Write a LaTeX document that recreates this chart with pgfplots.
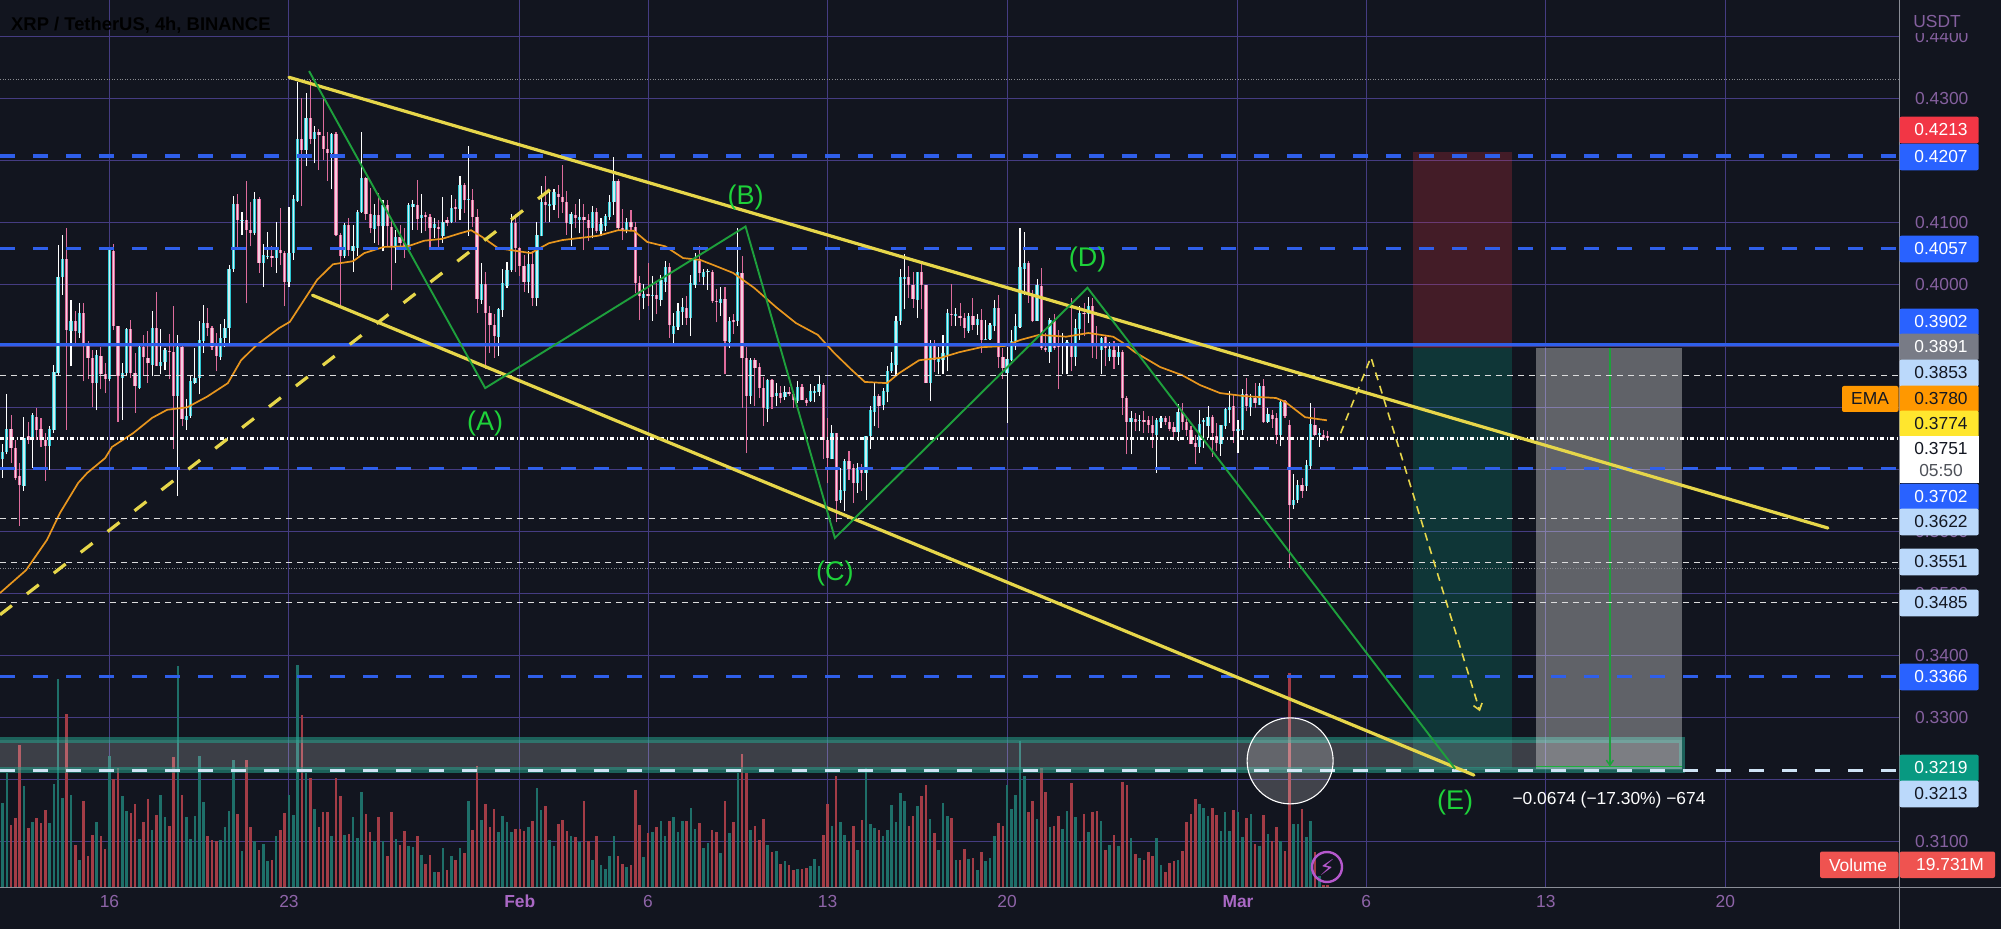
\documentclass[border=0pt]{standalone}
\usepackage{fontspec}
\setmainfont{Liberation Sans}
\newfontfamily\djv{DejaVu Sans}
\usepackage{pgfplots}
\usepackage{pgfplotstable}
\pgfplotsset{compat=1.18}
\usetikzlibrary{arrows.meta}
\definecolor{bgc}{HTML}{12151F}
\definecolor{gridc}{HTML}{453C82}
\definecolor{tickc}{HTML}{85609F}
\definecolor{datec}{HTML}{8E64A8}
\definecolor{monc}{HTML}{A968C4}
\definecolor{axc}{HTML}{8A8D96}
\definecolor{upe}{HTML}{2CC6D2}
\definecolor{upi}{HTML}{CDEFF2}
\definecolor{dne}{HTML}{DE6C9C}
\definecolor{dni}{HTML}{F6CFE0}
\definecolor{wdn}{HTML}{DE6C9C}
\definecolor{volu}{HTML}{1E6F69}
\definecolor{vold}{HTML}{A33C46}
\definecolor{ylw}{HTML}{E6D64A}
\definecolor{grn}{HTML}{1EA03C}
\definecolor{lblue}{HTML}{2F5FEA}
\definecolor{lwhite}{HTML}{CFE3F5}
\definecolor{ema}{HTML}{E8961E}
\definecolor{lab}{HTML}{1ED23A}
\definecolor{bxblue}{HTML}{2962FF}
\definecolor{bxpale}{HTML}{BBD9FB}
\definecolor{bxred}{HTML}{F23645}
\definecolor{bxgray}{HTML}{787B86}
\definecolor{bxorg}{HTML}{FF9800}
\definecolor{bxyel}{HTML}{FFE62E}
\definecolor{bxgrn}{HTML}{089981}
\definecolor{bxvol}{HTML}{EF5350}
\definecolor{txdark}{HTML}{131722}
\definecolor{zonec}{HTML}{26A08C}
\pgfplotstableread{
n o h l c v
-25 0.3718 0.3741 0.3687 0.3729 252
-24 0.3729 0.3822 0.3725 0.3766 342
-23 0.3766 0.3789 0.3711 0.3735 187
-22 0.3735 0.3749 0.3683 0.3687 207
-21 0.3690 0.3711 0.3609 0.3675 427
-20 0.3674 0.3785 0.3666 0.3752 304
-19 0.3755 0.3778 0.3741 0.3749 177
-18 0.3749 0.3792 0.3703 0.3789 195
-17 0.3786 0.3800 0.3749 0.3765 207
-16 0.3766 0.3784 0.3737 0.3749 192
-15 0.3748 0.3760 0.3682 0.3739 232
-14 0.3739 0.3771 0.3700 0.3766 192
-13 0.3764 0.3870 0.3760 0.3858 310
-12 0.3856 0.4063 0.3851 0.4012 624
-11 0.4011 0.4080 0.3983 0.4040 267
-10 0.4040 0.4090 0.3765 0.3926 520
-9 0.3925 0.3975 0.3867 0.3940 277
-8 0.3940 0.3956 0.3905 0.3924 127
-7 0.3921 0.3969 0.3913 0.3953 82
-6 0.3953 0.3969 0.3843 0.3905 259
-5 0.3905 0.3908 0.3846 0.3881 94
-4 0.3881 0.3894 0.3802 0.3840 157
-3 0.3840 0.3893 0.3796 0.3886 195
-2 0.3884 0.3899 0.3830 0.3855 154
-1 0.3855 0.3873 0.3824 0.3846 114
0 0.3846 0.4058 0.3843 0.4055 392
1 0.4053 0.4065 0.3926 0.3932 324
2 0.3932 0.3933 0.3778 0.3851 357
3 0.3848 0.3872 0.3781 0.3857 272
4 0.3856 0.3929 0.3851 0.3927 227
5 0.3927 0.3942 0.3848 0.3856 222
6 0.3856 0.3889 0.3792 0.3835 250
7 0.3832 0.3902 0.3830 0.3899 144
8 0.3899 0.3918 0.3851 0.3882 194
9 0.3881 0.3925 0.3841 0.3872 265
10 0.3870 0.3956 0.3851 0.3929 170
11 0.3929 0.3988 0.3867 0.3868 217
12 0.3868 0.3927 0.3854 0.3874 277
13 0.3874 0.3897 0.3862 0.3893 210
14 0.3892 0.3920 0.3846 0.3890 184
15 0.3890 0.3965 0.3733 0.3819 390
16 0.3819 0.3917 0.3658 0.3899 662
17 0.3899 0.3902 0.3770 0.3782 277
18 0.3781 0.3815 0.3765 0.3787 210
19 0.3787 0.3851 0.3784 0.3843 144
20 0.3841 0.3897 0.3839 0.3848 214
21 0.3848 0.3940 0.3822 0.3910 392
22 0.3908 0.3967 0.3889 0.3937 254
23 0.3937 0.3961 0.3916 0.3929 152
24 0.3929 0.3933 0.3894 0.3899 142
25 0.3905 0.3921 0.3859 0.3884 139
26 0.3882 0.3936 0.3878 0.3913 142
27 0.3913 0.3944 0.3899 0.3929 179
28 0.3929 0.4031 0.3902 0.4024 229
29 0.4024 0.4142 0.4020 0.4129 380
30 0.4129 0.4146 0.4058 0.4104 220
31 0.4103 0.4117 0.4080 0.4104 109
32 0.4104 0.4166 0.3969 0.4088 382
33 0.4088 0.4133 0.4061 0.4083 180
34 0.4082 0.4148 0.4080 0.4137 137
35 0.4137 0.4141 0.4018 0.4034 110
36 0.4034 0.4065 0.3996 0.4047 129
37 0.4044 0.4084 0.4040 0.4046 77
38 0.4045 0.4061 0.4028 0.4042 82
39 0.4042 0.4100 0.4018 0.4055 154
40 0.4055 0.4123 0.4031 0.4050 172
41 0.4050 0.4053 0.3964 0.4004 222
42 0.4004 0.4124 0.3996 0.4051 277
43 0.4051 0.4144 0.4039 0.4137 217
44 0.4134 0.4327 0.4133 0.4234 667
45 0.4234 0.4300 0.4126 0.4217 517
46 0.4217 0.4308 0.4190 0.4268 342
47 0.4268 0.4330 0.4226 0.4234 327
48 0.4234 0.4255 0.4195 0.4246 235
49 0.4246 0.4250 0.4184 0.4241 180
50 0.4239 0.4300 0.4200 0.4218 226
51 0.4218 0.4245 0.4167 0.4212 226
52 0.4211 0.4244 0.4153 0.4242 154
53 0.4242 0.4246 0.4077 0.4080 327
54 0.4080 0.4082 0.3967 0.4045 272
55 0.4045 0.4098 0.4042 0.4096 156
56 0.4096 0.4106 0.4045 0.4055 160
57 0.4054 0.4096 0.4020 0.4061 210
58 0.4058 0.4120 0.4045 0.4117 147
59 0.4116 0.4246 0.4115 0.4171 285
60 0.4171 0.4173 0.4104 0.4113 220
61 0.4113 0.4155 0.4082 0.4090 164
62 0.4089 0.4130 0.4066 0.4112 137
63 0.4111 0.4147 0.4063 0.4093 210
64 0.4093 0.4136 0.4053 0.4128 137
65 0.4128 0.4136 0.4061 0.4093 94
66 0.4092 0.4104 0.3990 0.4061 224
67 0.4058 0.4088 0.4034 0.4076 145
68 0.4076 0.4096 0.4061 0.4067 127
69 0.4067 0.4090 0.4042 0.4062 169
70 0.4063 0.4131 0.4061 0.4128 124
71 0.4125 0.4136 0.4088 0.4129 120
72 0.4128 0.4168 0.4088 0.4105 152
73 0.4106 0.4146 0.4082 0.4112 97
74 0.4112 0.4117 0.4085 0.4109 70
75 0.4109 0.4113 0.4058 0.4090 97
76 0.4090 0.4106 0.4074 0.4097 46
77 0.4092 0.4104 0.4058 0.4089 46
78 0.4078 0.4141 0.4066 0.4101 117
79 0.4104 0.4109 0.4093 0.4099 52
80 0.4101 0.4144 0.4098 0.4123 94
81 0.4124 0.4137 0.4100 0.4122 82
82 0.4121 0.4175 0.4104 0.4160 117
83 0.4160 0.4163 0.4115 0.4135 102
84 0.4135 0.4223 0.4078 0.4137 257
85 0.4136 0.4153 0.4092 0.4108 172
86 0.4108 0.4121 0.3953 0.3976 362
87 0.3975 0.4034 0.3968 0.4000 202
88 0.4000 0.4019 0.3863 0.3953 250
89 0.3953 0.3964 0.3889 0.3934 179
90 0.3934 0.3951 0.3881 0.3916 235
91 0.3914 0.3961 0.3884 0.3960 165
92 0.3958 0.4024 0.3947 0.4001 212
93 0.3997 0.4035 0.3994 0.4023 194
94 0.4022 0.4113 0.4020 0.4099 164
95 0.4098 0.4113 0.4020 0.4058 175
96 0.4058 0.4060 0.4013 0.4030 175
97 0.4030 0.4047 0.3988 0.4003 167
98 0.4003 0.4053 0.3985 0.4032 179
99 0.4032 0.4053 0.3965 0.3977 197
100 0.3977 0.4101 0.3964 0.4080 297
101 0.4078 0.4159 0.4077 0.4132 232
102 0.4132 0.4175 0.4101 0.4128 242
103 0.4126 0.4152 0.4101 0.4129 142
104 0.4128 0.4153 0.4120 0.4148 122
105 0.4145 0.4160 0.4106 0.4141 190
106 0.4141 0.4192 0.4115 0.4133 202
107 0.4133 0.4151 0.4080 0.4098 169
108 0.4097 0.4117 0.4061 0.4113 154
109 0.4112 0.4130 0.4090 0.4106 149
110 0.4104 0.4137 0.4082 0.4108 134
111 0.4108 0.4130 0.4055 0.4104 259
112 0.4104 0.4113 0.4069 0.4090 137
113 0.4090 0.4126 0.4074 0.4117 82
114 0.4117 0.4123 0.4082 0.4085 152
115 0.4085 0.4106 0.4077 0.4097 67
116 0.4094 0.4113 0.4085 0.4110 54
117 0.4108 0.4144 0.4104 0.4133 94
118 0.4132 0.4206 0.4112 0.4167 152
119 0.4167 0.4169 0.4088 0.4090 92
120 0.4090 0.4121 0.4071 0.4086 70
121 0.4086 0.4106 0.4082 0.4101 60
122 0.4100 0.4119 0.4085 0.4092 67
123 0.4092 0.4101 0.3985 0.4002 290
124 0.4002 0.4013 0.3942 0.3980 187
125 0.3978 0.4000 0.3959 0.3984 90
126 0.3984 0.4034 0.3965 0.3981 162
127 0.3982 0.4013 0.3941 0.3983 164
128 0.3982 0.4002 0.3951 0.3976 179
129 0.3975 0.4015 0.3964 0.4006 199
130 0.4004 0.4037 0.3987 0.4028 152
131 0.4028 0.4034 0.3913 0.3934 197
132 0.3920 0.3953 0.3905 0.3933 209
133 0.3931 0.3970 0.3926 0.3956 164
134 0.3955 0.3977 0.3934 0.3963 197
135 0.3962 0.3980 0.3934 0.3945 197
136 0.3945 0.4015 0.3916 0.4002 237
137 0.3999 0.4050 0.3994 0.4039 175
138 0.4037 0.4062 0.4004 0.4018 192
139 0.4012 0.4024 0.3999 0.4020 117
140 0.4019 0.4024 0.3991 0.4021 132
141 0.4020 0.4023 0.3970 0.3972 172
142 0.3973 0.3992 0.3938 0.3972 164
143 0.3970 0.3995 0.3949 0.3976 102
144 0.3976 0.3995 0.3854 0.3908 259
145 0.3906 0.3947 0.3897 0.3941 162
146 0.3942 0.3951 0.3920 0.3938 194
147 0.3940 0.4090 0.3932 0.4019 342
148 0.4018 0.4046 0.3800 0.3880 399
149 0.3880 0.3899 0.3727 0.3820 342
150 0.3820 0.3881 0.3807 0.3878 172
151 0.3878 0.3881 0.3803 0.3865 182
152 0.3866 0.3873 0.3816 0.3832 142
153 0.3832 0.3850 0.3771 0.3800 205
154 0.3798 0.3847 0.3778 0.3845 127
155 0.3845 0.3847 0.3798 0.3818 104
156 0.3819 0.3841 0.3803 0.3824 107
157 0.3824 0.3835 0.3808 0.3816 70
158 0.3817 0.3835 0.3813 0.3825 79
159 0.3825 0.3834 0.3819 0.3823 67
160 0.3823 0.3827 0.3800 0.3812 50
161 0.3811 0.3843 0.3808 0.3834 54
162 0.3834 0.3838 0.3812 0.3813 54
163 0.3813 0.3816 0.3803 0.3808 57
164 0.3811 0.3838 0.3810 0.3827 62
165 0.3824 0.3835 0.3809 0.3828 85
166 0.3826 0.3851 0.3820 0.3838 62
167 0.3837 0.3840 0.3717 0.3749 157
168 0.3749 0.3784 0.3678 0.3719 250
169 0.3718 0.3773 0.3717 0.3759 184
170 0.3759 0.3759 0.3615 0.3650 334
171 0.3651 0.3703 0.3647 0.3667 195
172 0.3666 0.3717 0.3633 0.3714 157
173 0.3714 0.3730 0.3684 0.3702 137
174 0.3703 0.3709 0.3647 0.3678 182
175 0.3678 0.3711 0.3663 0.3703 112
176 0.3703 0.3710 0.3666 0.3695 202
177 0.3695 0.3755 0.3651 0.3755 357
178 0.3755 0.3803 0.3734 0.3796 190
179 0.3794 0.3840 0.3770 0.3820 177
180 0.3820 0.3822 0.3768 0.3803 172
181 0.3804 0.3832 0.3796 0.3827 154
182 0.3825 0.3868 0.3809 0.3859 172
183 0.3859 0.3891 0.3856 0.3872 245
184 0.3870 0.3948 0.3851 0.3941 195
185 0.3941 0.4024 0.3934 0.4011 282
186 0.4008 0.4049 0.3959 0.4012 259
187 0.4011 0.4030 0.3977 0.3999 182
188 0.3999 0.4020 0.3962 0.3976 212
189 0.3975 0.4020 0.3945 0.4020 242
190 0.4019 0.4034 0.3960 0.3999 274
191 0.3998 0.3999 0.3840 0.3841 305
192 0.3841 0.3909 0.3811 0.3900 204
193 0.3900 0.3909 0.3858 0.3878 162
194 0.3874 0.3899 0.3854 0.3879 112
195 0.3877 0.3917 0.3855 0.3888 252
196 0.3886 0.3959 0.3859 0.3953 214
197 0.3952 0.4000 0.3932 0.3950 207
198 0.3949 0.3961 0.3932 0.3951 82
199 0.3949 0.3969 0.3932 0.3945 80
200 0.3945 0.3953 0.3913 0.3929 115
201 0.3925 0.3954 0.3921 0.3948 84
202 0.3948 0.3977 0.3926 0.3934 87
203 0.3934 0.3951 0.3918 0.3944 52
204 0.3942 0.3959 0.3889 0.3910 104
205 0.3911 0.3942 0.3910 0.3912 77
206 0.3911 0.3937 0.3910 0.3934 87
207 0.3932 0.3975 0.3924 0.3961 152
208 0.3961 0.3983 0.3865 0.3883 192
209 0.3883 0.3897 0.3846 0.3865 184
210 0.3856 0.3899 0.3776 0.3879 305
211 0.3878 0.3926 0.3875 0.3908 235
212 0.3908 0.3951 0.3894 0.3932 277
213 0.3931 0.4090 0.3929 0.4027 439
214 0.4024 0.4084 0.3983 0.4034 332
215 0.4034 0.4038 0.3970 0.3984 224
216 0.3984 0.3991 0.3938 0.3941 257
217 0.3941 0.4008 0.3940 0.3999 205
218 0.3997 0.4026 0.3894 0.3897 357
219 0.3897 0.3921 0.3891 0.3893 285
220 0.3891 0.3945 0.3873 0.3942 179
221 0.3940 0.3951 0.3894 0.3897 184
222 0.3902 0.3926 0.3830 0.3898 212
223 0.3902 0.3921 0.3854 0.3904 174
224 0.3902 0.3909 0.3854 0.3906 229
225 0.3905 0.3977 0.3859 0.3883 312
226 0.3882 0.3944 0.3868 0.3929 210
227 0.3927 0.3965 0.3910 0.3953 137
228 0.3953 0.3969 0.3916 0.3951 220
229 0.3951 0.3979 0.3937 0.3965 165
230 0.3964 0.3977 0.3881 0.3902 224
231 0.3902 0.3933 0.3879 0.3900 229
232 0.3893 0.3915 0.3854 0.3913 199
233 0.3914 0.3917 0.3867 0.3897 112
234 0.3883 0.3906 0.3875 0.3895 127
235 0.3894 0.3908 0.3863 0.3883 155
236 0.3883 0.3902 0.3870 0.3890 122
237 0.3890 0.3894 0.3789 0.3816 315
238 0.3816 0.3819 0.3725 0.3778 307
239 0.3777 0.3795 0.3725 0.3784 147
240 0.3782 0.3792 0.3762 0.3778 100
241 0.3780 0.3788 0.3762 0.3781 87
242 0.3781 0.3795 0.3760 0.3778 80
243 0.3780 0.3787 0.3760 0.3773 104
244 0.3773 0.3787 0.3735 0.3759 92
245 0.3757 0.3784 0.3695 0.3780 147
246 0.3778 0.3787 0.3768 0.3784 67
247 0.3784 0.3787 0.3773 0.3778 45
248 0.3778 0.3787 0.3762 0.3766 72
249 0.3769 0.3778 0.3752 0.3761 77
250 0.3761 0.3807 0.3746 0.3793 82
251 0.3793 0.3808 0.3765 0.3778 107
252 0.3778 0.3787 0.3755 0.3765 194
253 0.3765 0.3770 0.3741 0.3742 220
254 0.3744 0.3757 0.3709 0.3737 265
255 0.3737 0.3796 0.3728 0.3774 250
256 0.3778 0.3784 0.3735 0.3780 237
257 0.3771 0.3803 0.3752 0.3785 214
258 0.3785 0.3789 0.3721 0.3760 237
259 0.3755 0.3776 0.3730 0.3744 217
260 0.3741 0.3773 0.3723 0.3772 169
261 0.3770 0.3800 0.3766 0.3798 225
262 0.3796 0.3828 0.3776 0.3802 169
263 0.3803 0.3823 0.3744 0.3762 230
264 0.3762 0.3781 0.3728 0.3766 226
265 0.3765 0.3830 0.3757 0.3823 149
266 0.3823 0.3848 0.3795 0.3803 207
267 0.3801 0.3822 0.3787 0.3816 220
268 0.3816 0.3841 0.3800 0.3808 130
269 0.3805 0.3841 0.3804 0.3836 122
270 0.3836 0.3847 0.3776 0.3777 217
271 0.3777 0.3800 0.3776 0.3790 160
272 0.3789 0.3797 0.3768 0.3782 137
273 0.3783 0.3792 0.3742 0.3757 180
274 0.3757 0.3812 0.3738 0.3810 137
275 0.3811 0.3813 0.3784 0.3787 107
276 0.3772 0.3781 0.3542 0.3644 642
277 0.3644 0.3694 0.3636 0.3651 190
278 0.3651 0.3684 0.3647 0.3676 190
279 0.3676 0.3687 0.3655 0.3666 235
280 0.3674 0.3716 0.3666 0.3708 149
281 0.3707 0.3808 0.3701 0.3774 199
282 0.3773 0.3800 0.3754 0.3757 104
283 0.3756 0.3768 0.3737 0.3760 32
284 0.3757 0.3765 0.3749 0.3752 7
285 0.3754 0.3762 0.3746 0.3751 7
}\candles
\pgfplotsset{
  base/.style={scale only axis, width=1899.3pt, height=887pt, at={(0pt,0pt)}, anchor=south west,
    xmin=-25.6, xmax=418.7},
  price/.style={base, ymin=0.30263, ymax=0.44588},
  lvl/.style={lblue, line width=3.3pt, dash pattern=on 15pt off 18pt},
  thin lvl/.style={white!85!bgc, line width=1pt, dash pattern=on 6pt off 5pt},
  wick/.style 2 args={draw=none, mark=none, forget plot,
    error bars/y dir=plus, error bars/y explicit, error bars/error mark=none,
    error bars/error bar style={line width=#1, color=#2}},
}
\newcommand{\pbox}[4]{% y-centre (px), fill, text colour, text
  \fill[#2, rounded corners=2pt] (1899.5pt,{887pt-#1pt+13.3pt}) rectangle (1978.7pt,{887pt-#1pt-13.3pt});
  \node[text=#3, font=\fontsize{17.4}{20}\selectfont, inner sep=0pt, anchor=center] at (1941pt,{887pt-#1pt}) {#4};}
\begin{document}
\begin{tikzpicture}[x=1pt,y=1pt]
\path[use as bounding box] (0pt,-42pt) rectangle (2001pt,887pt);
\fill[bgc] (0pt,-42pt) rectangle (2001pt,887pt);
% grid, ticks and labels
\begin{axis}[price,
  axis line style={draw=none},
  major tick length=0pt,
  grid=major, grid style={gridc, line width=1pt},
  xtick={0,42,96,126,168,210,264,294,336,378},
  xticklabels={16,23,{\textcolor{monc}{\textbf{Feb}}},6,13,20,{\textcolor{monc}{\textbf{Mar}}},6,13,20},
  xticklabel style={text=datec, font=\fontsize{17.4}{20}\selectfont, anchor=base, yshift=-20pt},
  ytick={0.31,0.32,0.33,0.34,0.35,0.36,0.37,0.38,0.39,0.40,0.41,0.42,0.43,0.44},
  yticklabels={0.3100,{},0.3300,0.3400,0.3500,0.3600,{},{},{},0.4000,0.4100,{},0.4300,0.4400},
  yticklabel pos=right,
  yticklabel style={text=tickc, font=\fontsize{17.4}{20}\selectfont, anchor=west, inner sep=0pt, xshift=15.7pt},
]
\end{axis}
% volume pane
\begin{axis}[base, hide axis, ymin=0, ymax=2661, unbounded coords=discard]
\addplot[ycomb, volu, line width=2.6pt, mark=none] table[x=n, y expr={\thisrow{c}>=\thisrow{o}?\thisrow{v}:nan}] {\candles};
\addplot[ycomb, vold, line width=2.6pt, mark=none] table[x=n, y expr={\thisrow{c}<\thisrow{o}?\thisrow{v}:nan}] {\candles};
\end{axis}
% price pane
\begin{axis}[price, hide axis, clip=false, unbounded coords=discard]
% position boxes
\addplot[fill=bxred, fill opacity=.22, draw=none] coordinates {(305,0.3897)(328,0.3897)(328,0.4213)(305,0.4213)} -- cycle;
\addplot[fill=bxgrn, fill opacity=.25, draw=none] coordinates {(305,0.3219)(328,0.3219)(328,0.3897)(305,0.3897)} -- cycle;
% zone
\addplot[fill=white, fill opacity=.18, draw=zonec, draw opacity=.55, line width=5.5pt] coordinates {(-32,0.3215)(367.9,0.3215)(367.9,0.3264)(-32,0.3264)} -- cycle;
% measure box
\addplot[fill=white, fill opacity=.33, draw=none] coordinates {(333.7,0.3217)(367.9,0.3217)(367.9,0.3897)(333.7,0.3897)} -- cycle;
\addplot[grn, line width=1.5pt, -{Straight Barb[length=5pt,width=7pt]}] coordinates {(351,0.3897)(351,0.3221)};
\addplot[grn!70!lab, line width=1.5pt] coordinates {(333.7,0.3221)(367.9,0.3221)};
% candles: wicks then bodies
\addplot[wick={1.1pt}{white}] table[x=n, y expr={\thisrow{c}>=\thisrow{o}?\thisrow{l}:nan}, y error plus expr={\thisrow{h}-\thisrow{l}}] {\candles};
\addplot[wick={1.1pt}{wdn}] table[x=n, y expr={\thisrow{c}<\thisrow{o}?\thisrow{l}:nan}, y error plus expr={\thisrow{h}-\thisrow{l}}] {\candles};
\addplot[wick={3.3pt}{upe}] table[x=n, y expr={\thisrow{c}>=\thisrow{o}?\thisrow{o}:nan}, y error plus expr={\thisrow{c}-\thisrow{o}}] {\candles};
\addplot[wick={1.3pt}{upi}] table[x=n, y expr={\thisrow{c}>=\thisrow{o}?\thisrow{o}:nan}, y error plus expr={\thisrow{c}-\thisrow{o}}] {\candles};
\addplot[wick={3.3pt}{dne}] table[x=n, y expr={\thisrow{c}<\thisrow{o}?\thisrow{c}:nan}, y error plus expr={\thisrow{o}-\thisrow{c}}] {\candles};
\addplot[wick={1.3pt}{dni}] table[x=n, y expr={\thisrow{c}<\thisrow{o}?\thisrow{c}:nan}, y error plus expr={\thisrow{o}-\thisrow{c}}] {\candles};
% EMA
\addplot[ema, line width=1.7pt, mark=none] coordinates {
(-25.6,0.3501)(-19.5,0.3538)(-14.6,0.3587)(-11.6,0.3630)(-7.3,0.3679)(-5.2,0.3695)(-1,0.3719)(0.6,0.3737)(5.5,0.3759)(10,0.3784)(13.5,0.3797)(18.2,0.3801)(22.8,0.3818)(27.7,0.3840)(30.8,0.3877)(34.5,0.3902)(39.7,0.3929)(42.2,0.3939)(45.5,0.3974)(48.6,0.4007)(52.3,0.4032)(57,0.4037)(59.6,0.4050)(64.2,0.4060)(69.8,0.4061)(73.6,0.4070)(77.8,0.4073)(82,0.4082)(84.6,0.4087)(87.2,0.4076)(90.9,0.4058)(98.6,0.4050)(102.8,0.4066)(105.9,0.4071)(114.3,0.4078)(119,0.4087)(122.7,0.4086)(125.8,0.4068)(130,0.4061)(134.2,0.4042)(138.2,0.4039)(141.2,0.4031)(145.9,0.4018)(150.8,0.3994)(155.9,0.3963)(160.6,0.3937)(165.7,0.3918)(169.5,0.3889)(173.7,0.3861)(176.7,0.3842)(181.9,0.3840)(184.7,0.3856)(189.4,0.3877)(194.5,0.3881)(198.8,0.3890)(203.9,0.3898)(209.3,0.3900)(213.2,0.3910)(217.5,0.3918)(223.8,0.3915)(229,0.3921)(234.8,0.3915)(236.9,0.3906)(239.9,0.3890)(245.8,0.3866)(250.9,0.3853)(255.1,0.3837)(259.8,0.3824)(265.6,0.3819)(272.9,0.3816)(275,0.3810)(279.7,0.3785)(284.8,0.3780)};
% price levels
\addplot[lvl] coordinates {(-25.6,0.4207)(418.7,0.4207)};
\addplot[lvl] coordinates {(-25.6,0.4057)(418.7,0.4057)};
\addplot[lvl] coordinates {(-25.6,0.3702)(418.7,0.3702)};
\addplot[lvl] coordinates {(-25.6,0.3366)(418.7,0.3366)};
\addplot[lblue, line width=3.2pt] coordinates {(-25.6,0.3902)(418.7,0.3902)};
\addplot[lwhite, line width=3.3pt, dash pattern=on 15pt off 18pt] coordinates {(-25.6,0.3214)(418.7,0.3214)};
\addplot[thin lvl] coordinates {(-25.6,0.3853)(418.7,0.3853)};
\addplot[thin lvl] coordinates {(-25.6,0.3622)(418.7,0.3622)};
\addplot[thin lvl] coordinates {(-25.6,0.3551)(418.7,0.3551)};
\addplot[thin lvl] coordinates {(-25.6,0.3485)(418.7,0.3485)};
\addplot[white, line width=2.6pt, dash pattern=on 4pt off 2.5pt on 1.2pt off 2.3pt] coordinates {(-25.6,0.3751)(418.7,0.3751)};
\addplot[white!50!bgc, line width=.9pt, dash pattern=on 1pt off 1.6pt] coordinates {(-25.6,0.4331)(418.7,0.4331)};
\addplot[white!50!bgc, line width=.9pt, dash pattern=on 1pt off 1.6pt] coordinates {(-25.6,0.3540)(418.7,0.3540)};
% trend channel
\addplot[ylw, line width=3.2pt, line cap=round] coordinates {(42,0.4334)(402,0.3606)};
\addplot[ylw, line width=3.2pt, line cap=round] coordinates {(47.5,0.3982)(319.2,0.3207)};
\addplot[ylw, line width=3.2pt, dash pattern=on 15pt off 19pt] coordinates {(-25.6,0.3466)(105.4,0.4165)};
\addplot[ylw, line width=1.6pt, dash pattern=on 8pt off 6pt, -{Straight Barb[length=6pt,width=9pt]}] coordinates {(288,0.3759)(295.1,0.3882)(320.6,0.3310)};
% wave count
\addplot[grn, line width=1.9pt] coordinates {(46.7,0.4344)(87.9,0.3832)(148.8,0.4093)(169.7,0.3590)(228.8,0.3994)(314.8,0.3217)};
\node[text=lab, font=\fontsize{27}{30}\selectfont] at (axis cs:87.9,0.3775) {(A)};
\node[text=lab, font=\fontsize{27}{30}\selectfont] at (axis cs:148.8,0.4140) {(B)};
\node[text=lab, font=\fontsize{27}{30}\selectfont] at (axis cs:169.7,0.3533) {(C)};
\node[text=lab, font=\fontsize{27}{30}\selectfont] at (axis cs:228.8,0.4040) {(D)};
\node[text=lab, font=\fontsize{27}{30}\selectfont] at (axis cs:314.8,0.3163) {(E)};
\node[text=white, font=\fontsize{17.4}{20}\selectfont] at (axis cs:350.8,0.3167) {−0.0674 (−17.30\%) −674};
% circle on the wick
\node[circle, draw=white, line width=1.1pt, fill=white, fill opacity=.2, draw opacity=1, minimum size=86pt, inner sep=0pt] at (axis cs:276.2,0.3230) {};
\end{axis}
% scale furniture
\draw[axc, line width=1pt] (1899.3pt,-42pt) -- (1899.3pt,887pt);
\draw[axc, line width=1pt] (0pt,0pt) -- (2001pt,0pt);
\fill[bgc] (1900pt,854pt) rectangle (2001pt,887pt);
\node[text=tickc, font=\fontsize{17.4}{20}\selectfont, inner sep=0pt] at (1937pt,865.5pt) {USDT};
\node[text=black, anchor=west, inner sep=0pt, font=\fontsize{18.4}{20}\selectfont\bfseries] at (11pt,862pt) {XRP / TetherUS, 4h, BINANCE};
% price labels
\pbox{130}{bxred}{white}{0.4213}
\pbox{157}{bxblue}{white}{0.4207}
\pbox{249}{bxblue}{white}{0.4057}
\pbox{322}{bxblue}{white}{0.3902}
\pbox{347}{bxgray}{white}{0.3891}
\pbox{373}{bxpale}{txdark}{0.3853}
\pbox{399}{bxorg}{txdark}{0.3780}
\pbox{424}{bxyel}{txdark}{0.3774}
\fill[white] (1899.5pt,{887pt-436pt}) rectangle (1978.7pt,{887pt-483pt});
\node[text=txdark, font=\fontsize{17.4}{20}\selectfont, inner sep=0pt] at (1941pt,{887pt-449pt}) {0.3751};
\node[text=txdark!75!white, font=\fontsize{17.4}{20}\selectfont, inner sep=0pt] at (1941pt,{887pt-471pt}) {05:50};
\pbox{497}{bxblue}{white}{0.3702}
\pbox{522}{bxpale}{txdark}{0.3622}
\pbox{562}{bxpale}{txdark}{0.3551}
\pbox{603}{bxpale}{txdark}{0.3485}
\pbox{677}{bxblue}{white}{0.3366}
\pbox{768}{bxgrn}{white}{0.3219}
\pbox{794}{bxpale}{txdark}{0.3213}
\fill[bxorg, rounded corners=2pt] (1842pt,{887pt-386pt}) rectangle (1898.5pt,{887pt-412pt});
\node[text=txdark, font=\fontsize{17.4}{20}\selectfont, inner sep=0pt] at (1870pt,{887pt-399pt}) {EMA};
\fill[bxvol, rounded corners=2pt] (1820pt,{887pt-851.5pt}) rectangle (1898.5pt,{887pt-878pt});
\fill[bxvol, rounded corners=2pt] (1899.8pt,{887pt-851.5pt}) rectangle (1995pt,{887pt-878pt});
\node[text=white, font=\fontsize{17.4}{20}\selectfont, inner sep=0pt] at (1858pt,{887pt-865pt}) {Volume};
\node[text=white, font=\fontsize{17.4}{20}\selectfont, inner sep=0pt] at (1950pt,{887pt-865pt}) {19.731M};
% lightning badge
\node[circle, draw=monc!85!magenta, line width=2.4pt, minimum size=30pt, inner sep=0pt, text=monc!85!magenta, font=\djv\fontsize{22}{22}\selectfont] at (1327pt,{887pt-867pt}) {⚡};
\end{tikzpicture}
\end{document}
